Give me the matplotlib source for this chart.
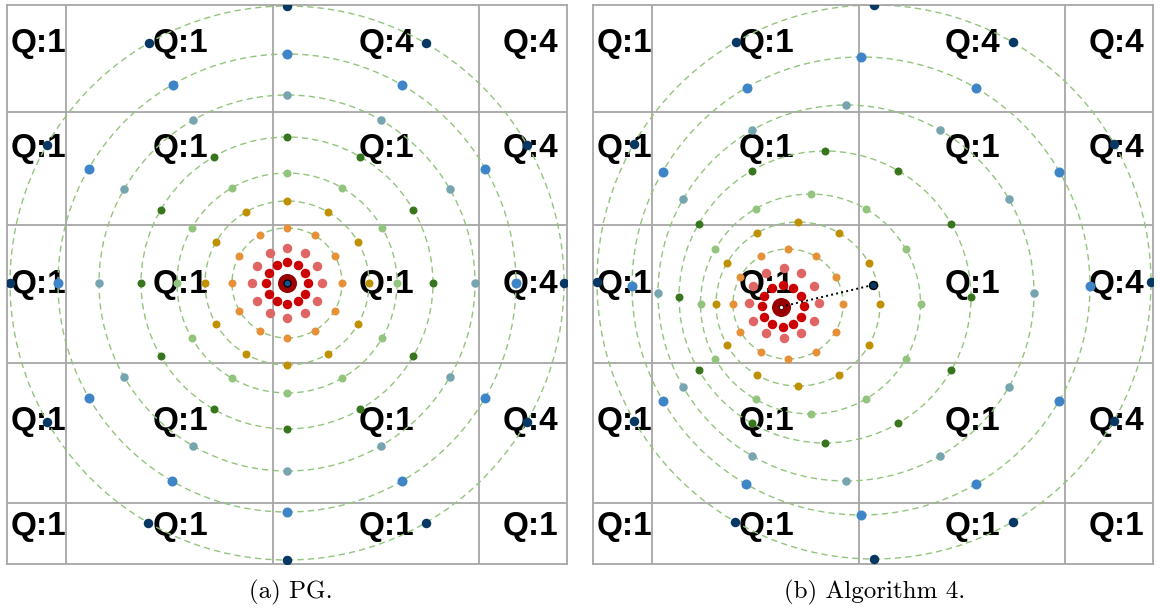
import numpy as np
import matplotlib
matplotlib.use('Agg')
from matplotlib import pyplot as plt
from matplotlib.patches import Circle

# ring data (pixel-like units, origin = panel centre, y up)
ring_radius = [21, 35, 55, 82, 110, 146, 188, 229, 277]
ring_colors = ['#cc0000', '#e06666', '#e69138', '#bf9000', '#93c47d',
               '#38761d', '#76a5af', '#3d85c6', '#073763']
ring_dot_px = [9.5, 9.5, 8, 8, 8, 8, 8.5, 10, 9.5]
ring_has_circle = [False, False, True, True, True, True, True, True, True]
angles_deg = [0, 30, 60, 90, 120, 150, 180, 210, 240, 270, 300, 330]

# ring centres for the two panels
centers_a_x = [0, 0, 0, 0, 0, 0, 0, 0, 0]
centers_a_y = [0, 0, 0, 0, 0, 0, 0, 0, 0]
centers_b_x = [-90.5, -89.5, -85, -75, -62.5, -48, -27, -12, 1]
centers_b_y = [-23, -20, -21, -21, -21, -14, -10, -3, 1]

# grid of cells
grid_x = [-221, -14, 192]
grid_y = [171, 58, -80, -220]
label_x = [-249, -106.5, 99, 243.5]
label_y = [231, 126, -10, -147, -252]
labels = [['Q:1', 'Q:1', 'Q:4', 'Q:4'],
          ['Q:1', 'Q:1', 'Q:1', 'Q:4'],
          ['Q:1', 'Q:1', 'Q:1', 'Q:4'],
          ['Q:1', 'Q:1', 'Q:1', 'Q:4'],
          ['Q:1', 'Q:1', 'Q:1', 'Q:1']]

W, H = 1160, 611
fig = plt.figure(figsize=(W / 100, H / 100), dpi=100)
fig.patch.set_facecolor('white')

grid_color = '#a6a6a6'


def px2pt(d):
    return (d * 0.72) ** 2


def draw_panel(left_px, cx, cy, algo):
    ax = fig.add_axes([left_px / W, (H - 564) / H, 560 / W, 559 / H])
    ax.set_xlim(-280, 280)
    ax.set_ylim(-281, 278)
    ax.set_xticks([])
    ax.set_yticks([])
    for s in ax.spines.values():
        s.set_color(grid_color)
        s.set_linewidth(1.3)
    for x in grid_x:
        ax.axvline(x, color=grid_color, lw=1.3, zorder=0.5)
    for y in grid_y:
        ax.axhline(y, color=grid_color, lw=1.3, zorder=0.5)

    for i, row in enumerate(labels):
        for j, lab in enumerate(row):
            ax.text(label_x[j], label_y[i], lab, ha='center', va='baseline',
                    fontsize=24, fontweight='bold', family='Liberation Sans',
                    zorder=1)

    ang = np.radians(angles_deg)
    for k, r in enumerate(ring_radius):
        if ring_has_circle[k]:
            ax.add_patch(Circle((cx[k], cy[k]), r, fill=False, ec='#93c47d',
                                lw=1.0, ls=(0, (4.5, 3)), zorder=2))
        ax.scatter(cx[k] + r * np.cos(ang), cy[k] + r * np.sin(ang),
                   s=px2pt(ring_dot_px[k]), color=ring_colors[k],
                   linewidths=0, zorder=3)

    # centre marker
    c0x = cx[0] - 1.5 if algo else cx[0]
    c0y = cy[0] - 0.7 if algo else cy[0]
    ax.scatter([c0x], [c0y], s=px2pt(19), color='#990000', linewidths=0, zorder=4)
    if algo:
        ax.plot([c0x, 0], [c0y, -2], ls=':', color='black', lw=1.4, zorder=4)
        ax.scatter([c0x], [c0y], s=px2pt(4), color='white', edgecolors='black',
                   linewidths=0.5, zorder=5)
        ax.scatter([0], [-2], s=px2pt(8), color='#073763', edgecolors='black',
                   linewidths=1.0, zorder=5)
    else:
        ax.scatter([c0x], [c0y], s=px2pt(7), color='#0b5394', edgecolors='black',
                   linewidths=0.8, zorder=5)
    return ax


draw_panel(7, centers_a_x, centers_a_y, False)
draw_panel(593, centers_b_x, centers_b_y, True)

fig.text(291 / W, 1 - 592 / H, '(a) PG.', ha='center', va='center',
         family='cmr10', fontsize=18)
fig.text(875 / W, 1 - 592 / H, '(b) Algorithm 4.', ha='center', va='center',
         family='cmr10', fontsize=18)

fig.savefig('out.png', dpi=100, facecolor='white')
